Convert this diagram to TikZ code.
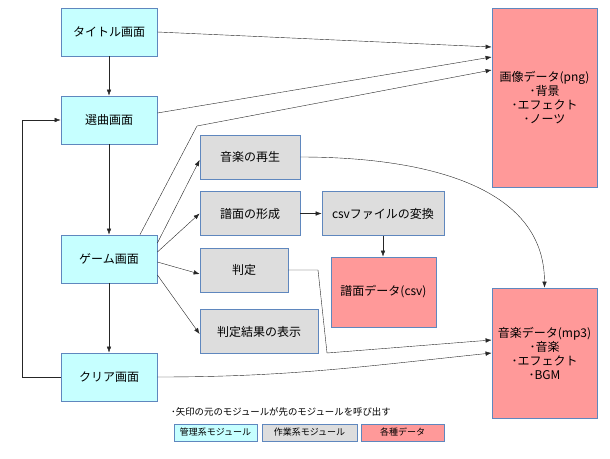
\documentclass[tikz,border=0pt]{standalone}
\usepackage{fontspec}
\setmainfont{Noto Sans CJK JP}
\usetikzlibrary{arrows.meta, positioning}

\definecolor{mgrcyan}{RGB}{198,255,255}
\definecolor{workgray}{RGB}{221,221,221}
\definecolor{datared}{RGB}{255,153,153}
\definecolor{boxedge}{RGB}{95,135,190}

\tikzset{
    mgr/.style={draw=boxedge, fill=mgrcyan, line width=0.8pt, minimum width=96pt, minimum height=48pt, inner sep=0pt, font=\fontsize{12}{14}\selectfont},
    work/.style={draw=boxedge, fill=workgray, line width=0.8pt, minimum height=44pt, inner sep=0pt, font=\fontsize{12}{14}\selectfont},
    data/.style={draw=boxedge, fill=datared, line width=0.8pt, minimum width=105pt, inner sep=0pt, align=center, font=\fontsize{12}{14}\selectfont},
    call/.style={-{Latex[length=6pt,width=4.5pt]}, draw=black!85, line width=0.4pt},
    key/.style={draw=boxedge, line width=0.8pt, minimum height=17pt, inner sep=0pt, font=\fontsize{9}{10}\selectfont}
}

\begin{document}
\begin{tikzpicture}[x=1pt, y=-1pt]
            \useasboundingbox (0,0) rectangle (610,458);

            % 1. Management modules (screens)
            \node[mgr] (title) at (109,32) {タイトル画面};
            \node[mgr] (select) at (109,120) {選曲画面};
            \node[mgr] (game) at (109,259) {ゲーム画面};
            \node[mgr] (clear) at (109,377) {クリア画面};

            % 2. Work modules
            \node[work, minimum width=100pt] (play) at (250,157) {音楽の再生};
            \node[work, minimum width=100pt] (form) at (250,213.5) {譜面の形成};
            \node[work, minimum width=88pt] (judge) at (244,270) {判定};
            \node[work, minimum width=118pt] (result) at (259,331.5) {判定結果の表示};
            \node[work, minimum width=122pt] (convert) at (383,213.5) {csvファイルの変換};

            % 3. Data
            \node[data, minimum height=70pt] (chart) at (383.5,292) {譜面データ(csv)};
            \node[data, minimum height=179pt] (image) at (544.5,97.5) {画像データ(png)\\･背景\\･エフェクト\\･ノーツ};
            \node[data, minimum height=130pt] (sound) at (544.5,353) {音楽データ(mp3)\\･音楽\\･エフェクト\\･BGM};

            % 4. Screen flow
            \draw[call] (title) -- (select);
            \draw[call] (select) -- (game);
            \draw[call] (game) -- (clear);
            \coordinate (back) at (22,377);
            \draw[call] (clear.west) -- (back) |- (select.west);

            % 5. Calls to the image data
            \draw[call] (title.east) -- ([yshift=50.5pt]image.west);
            \draw[call] ([yshift=7pt]select.east) -- ([yshift=40.5pt]image.west);
            \coordinate (bend) at (197,126);
            \draw[call] ([xshift=31pt]game.north) -- (bend) -- ([yshift=27.5pt]image.west);

            % 6. Calls from the game screen
            \draw[call] ([yshift=16pt]game.east) -- ([yshift=-3pt]play.west);
            \draw[call] ([yshift=7pt]game.east) -- (form.west);
            \draw[call] ([yshift=-3pt]game.east) -- ([yshift=-4pt]judge.west);
            \draw[call] ([yshift=-16pt]game.east) -- ([yshift=-2.5pt]result.west);
            \draw[call] (form) -- (convert);
            \draw[call] (convert.south) -- (convert.south |- chart.north);

            % 7. Calls to the sound data
            \draw[call] (play.east) to[out=0, in=90] (sound.north);
            \coordinate (jA) at (318,270);
            \coordinate (jB) at (327,353);
            \draw[call] (judge.east) -- (jA) -- (jB) -- ([yshift=13pt]sound.west);
            \draw[call] (clear.east) to[out=0, in=186] (sound.west);

            % 8. Legend
            \node[anchor=west, inner sep=0pt, font=\fontsize{9.4}{10}\selectfont] (note) at (171,412) {･矢印の元のモジュールが先のモジュールを呼び出す};
            \node[key, fill=mgrcyan, minimum width=83pt] (keymgr) at (215.5,432.5) {管理系モジュール};
            \node[key, fill=workgray, minimum width=95pt] (keywork) at (309.5,432.5) {作業系モジュール};
            \node[key, fill=datared, minimum width=83pt] (keydata) at (402.5,432.5) {各種データ};

\end{tikzpicture}
\end{document}
